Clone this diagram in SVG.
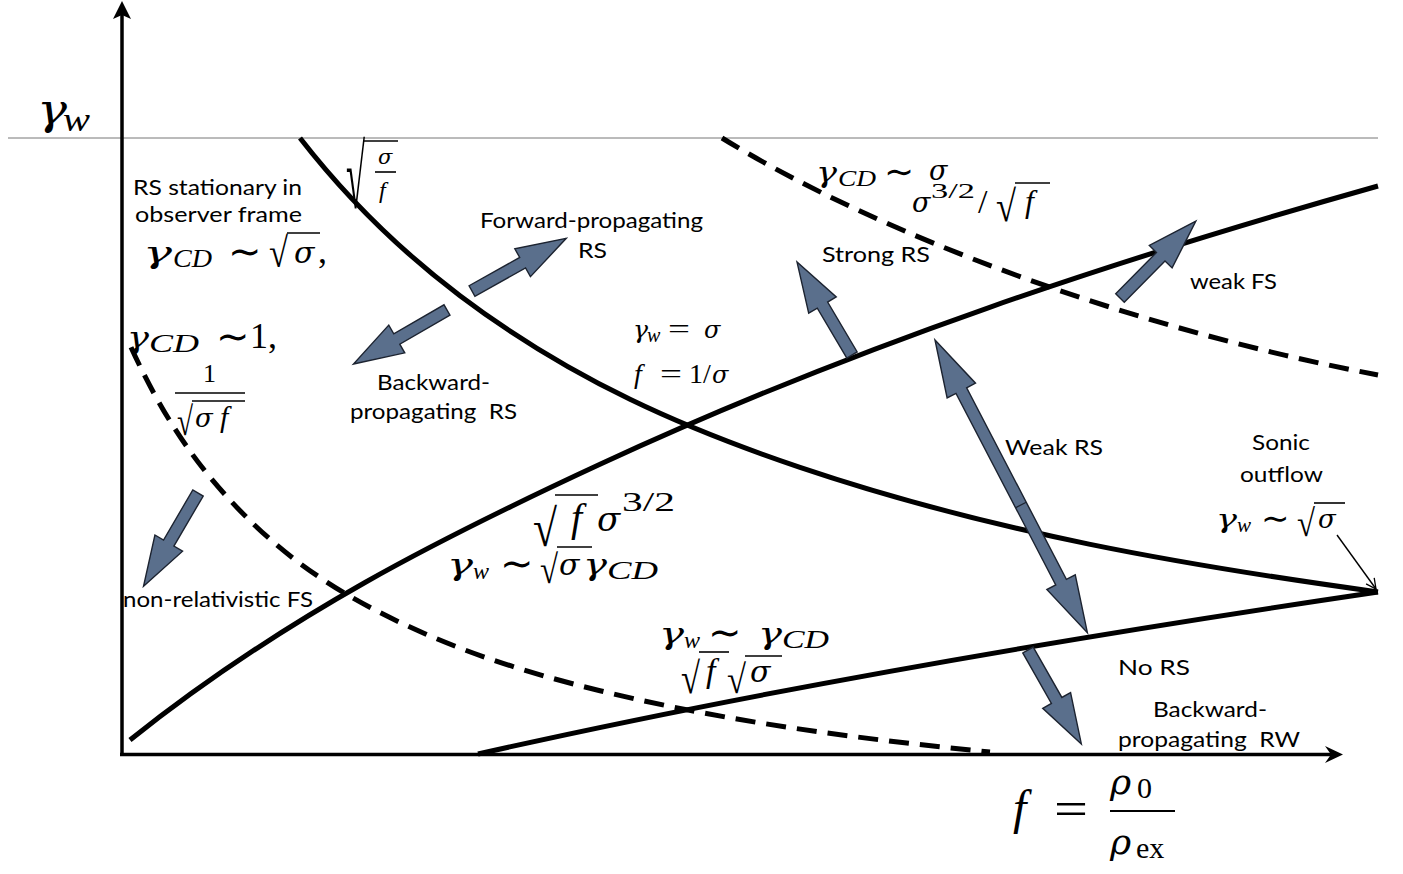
<svg xmlns="http://www.w3.org/2000/svg" width="1403" height="874" viewBox="0 0 1403 874">
<style>
.t{font-family:Lato,"Open Sans","Liberation Sans",sans-serif;font-size:22px;fill:#000;white-space:pre}
.mi{font-family:"Liberation Serif","DejaVu Serif",serif;font-style:italic;fill:#000}
.g{font-family:"DejaVu Serif","Liberation Serif",serif;font-style:italic;fill:#000}
.op{font-family:"DejaVu Sans","DejaVu Serif",sans-serif;fill:#000}
.mn{font-family:"Liberation Serif","DejaVu Serif",serif;fill:#000}
.bar{stroke:#000;stroke-width:1.6}
.cur{fill:none;stroke:#000;stroke-width:5;stroke-linejoin:round}
.dash{fill:none;stroke:#000;stroke-width:5;stroke-dasharray:20 11}
.blk{fill:#5a6f8c;stroke:#1c2330;stroke-width:1.4;stroke-linejoin:miter}
</style>
<defs>
<path id="blkArrow" class="blk" d="M0,-6 L58,-6 L58,-16 L108,0 L58,16 L58,6 L0,6 Z"/>
<marker id="thin" viewBox="0 0 12 12" refX="11" refY="6" markerWidth="12" markerHeight="12" markerUnits="userSpaceOnUse" orient="auto">
<path d="M1,1 L11,6 L1,11" fill="none" stroke="#000" stroke-width="1.3"/>
</marker>
</defs>
<rect width="1403" height="874" fill="#fff"/>
<g id="axes">
<line x1="8" y1="138" x2="1378" y2="138" stroke="#777" stroke-width="1"/>
<line x1="122" y1="756" x2="122" y2="12" stroke="#000" stroke-width="3.5"/>
<path d="M122,1 L131,19 L122,15 L113,19 Z" fill="#000"/>
<line x1="120" y1="754.5" x2="1334" y2="754.5" stroke="#000" stroke-width="3.5"/>
<path d="M1343,754.5 L1325,746 L1331,754.5 L1325,763 Z" fill="#000"/>
</g>
<g id="connectors">
<path id="curve-falling" class="cur" d="M300,138 C353.3,206.6 406.7,255.4 460,295.7 C573.3,381.3 686.7,429.2 800,467.4 C992.7,532.4 1185.3,565.4 1378,591.9"/>
<path id="curve-rising" class="cur" d="M130,740 C286.7,615 443.3,536.9 600,464.3 C859.3,344.2 1118.7,259.1 1378,186"/>
<path id="curve-lower" class="cur" d="M478,754 Q850,670 1378,592"/>
<path id="dash-top" class="dash" d="M722,138 C880,235 1130,328 1378,375"/>
<path id="dash-left" class="dash" d="M131,347.2 C164,419.7 197,464.3 230,500.1 C286.7,561.6 343.3,595.4 400,622.4 C466.7,654.2 533.3,674.4 600,690.7 C730,722.4 860,738.9 990,752"/>
<line id="sonic-pointer" x1="1337" y1="535" x2="1376" y2="589" stroke="#000" stroke-width="1.4" marker-end="url(#thin)"/>
</g>
<g id="arrows">
<use href="#blkArrow" transform="translate(472,291) rotate(-29.2)"/>
<use href="#blkArrow" transform="translate(447,310) rotate(150)"/>
<use href="#blkArrow" transform="translate(852,355) rotate(-120.6)"/>
<use href="#blkArrow" transform="translate(1120,298) rotate(-45.4)"/>
<use href="#blkArrow" transform="translate(1028,650) rotate(60.4)"/>
<use href="#blkArrow" transform="translate(198,493) rotate(120.3)"/>
<g id="weak-rs-arrow" transform="translate(935,340) rotate(62.5)">
<path class="blk" d="M0,0 L57,-16 L57,-6 L273,-6 L273,-16 L330,0 L273,16 L273,6 L57,6 L57,16 Z"/>
<line x1="186" y1="-6" x2="186" y2="6" stroke="#1c2330" stroke-width="1.2"/>
</g>
</g>
<g id="labels">
<text class="t" x="133" y="195" textLength="169" lengthAdjust="spacingAndGlyphs">RS stationary in</text>
<text class="t" x="135" y="222" textLength="167" lengthAdjust="spacingAndGlyphs">observer frame</text>
<text class="t" x="480" y="228" textLength="223" lengthAdjust="spacingAndGlyphs">Forward-propagating</text>
<text class="t" x="578" y="258" textLength="29" lengthAdjust="spacingAndGlyphs">RS</text>
<text class="t" x="377" y="390" textLength="113" lengthAdjust="spacingAndGlyphs">Backward-</text>
<text class="t" x="350" y="419" textLength="167" lengthAdjust="spacingAndGlyphs">propagating  RS</text>
<text class="t" x="822" y="262" textLength="108" lengthAdjust="spacingAndGlyphs">Strong RS</text>
<text class="t" x="1190" y="289" textLength="87" lengthAdjust="spacingAndGlyphs">weak FS</text>
<text class="t" x="1005" y="455" textLength="98" lengthAdjust="spacingAndGlyphs">Weak RS</text>
<text class="t" x="1252" y="450" textLength="58" lengthAdjust="spacingAndGlyphs">Sonic</text>
<text class="t" x="1240" y="482" textLength="83" lengthAdjust="spacingAndGlyphs">outflow</text>
<text class="t" x="123" y="607" textLength="190" lengthAdjust="spacingAndGlyphs">non-relativistic FS</text>
<text class="t" x="1118" y="675" textLength="72" lengthAdjust="spacingAndGlyphs">No RS</text>
<text class="t" x="1153" y="717" textLength="114" lengthAdjust="spacingAndGlyphs">Backward-</text>
<text class="t" x="1118" y="747" textLength="182" lengthAdjust="spacingAndGlyphs">propagating  RW</text>
</g>
<g id="math">
<text class="g" x="37" y="124" font-size="42" textLength="30" lengthAdjust="spacingAndGlyphs">γ</text>
<text class="mi" x="63" y="131" font-size="34" textLength="27" lengthAdjust="spacingAndGlyphs">w</text>

<text class="g" x="143" y="263" font-size="30" textLength="29" lengthAdjust="spacingAndGlyphs">γ</text>
<text class="mi" x="173" y="267" font-size="26" textLength="39" lengthAdjust="spacingAndGlyphs">CD</text>
<text class="op" x="228" y="265" font-size="40">∼</text>
<text class="mn" x="269" y="267" font-size="42" textLength="19" lengthAdjust="spacingAndGlyphs">√</text>
<line class="bar" x1="287" y1="233" x2="320" y2="233"/>
<text class="g" x="294" y="263" font-size="30">σ</text>
<text class="mn" x="318" y="263" font-size="36">,</text>

<text class="mn" x="346" y="208" font-size="90" textLength="19" lengthAdjust="spacingAndGlyphs">√</text>
<line class="bar" x1="364" y1="141" x2="398" y2="141"/>
<text class="g" x="378" y="164" font-size="21">σ</text>
<line class="bar" x1="375" y1="172" x2="396" y2="172"/>
<text class="mi" x="379" y="198" font-size="24">f</text>

<text class="g" x="127" y="348" font-size="30" textLength="22" lengthAdjust="spacingAndGlyphs">γ</text>
<text class="mi" x="149" y="352" font-size="26" textLength="50" lengthAdjust="spacingAndGlyphs">CD</text>
<text class="op" x="216" y="350" font-size="40">∼</text>
<text class="mn" x="250" y="348" font-size="36">1,</text>

<text class="mn" x="203" y="382" font-size="26">1</text>
<line class="bar" x1="175" y1="393" x2="245" y2="393"/>
<text class="mn" x="177" y="435" font-size="40" textLength="16" lengthAdjust="spacingAndGlyphs">√</text>
<line class="bar" x1="192" y1="401" x2="245" y2="401"/>
<text class="g" x="195" y="427" font-size="26">σ</text>
<text class="mi" x="220" y="427" font-size="30">f</text>

<text class="g" x="633" y="338" font-size="24" textLength="15" lengthAdjust="spacingAndGlyphs">γ</text>
<text class="mi" x="647" y="342" font-size="20">w</text>
<text class="mn" x="668" y="338" font-size="28" textLength="22" lengthAdjust="spacingAndGlyphs">=</text>
<text class="g" x="704" y="338" font-size="24">σ</text>
<text class="mi" x="634" y="383" font-size="28">f</text>
<text class="mn" x="660" y="383" font-size="28" textLength="22" lengthAdjust="spacingAndGlyphs">=</text>
<text class="mn" x="689" y="383" font-size="28">1/</text>
<text class="g" x="712" y="383" font-size="24">σ</text>

<text class="g" x="816" y="182" font-size="27" textLength="21" lengthAdjust="spacingAndGlyphs">γ</text>
<text class="mi" x="838" y="186" font-size="23" textLength="38" lengthAdjust="spacingAndGlyphs">CD</text>
<text class="op" x="884" y="184" font-size="36">∼</text>
<text class="g" x="929" y="180" font-size="27">σ</text>
<text class="g" x="912" y="212" font-size="27">σ</text>
<text class="mn" x="931" y="198" font-size="22" textLength="44" lengthAdjust="spacingAndGlyphs">3/2</text>
<text class="mn" x="978" y="213" font-size="34">/</text>
<text class="mn" x="996" y="221" font-size="44" textLength="20" lengthAdjust="spacingAndGlyphs">√</text>
<line class="bar" x1="1015" y1="183" x2="1050" y2="183"/>
<text class="mi" x="1025" y="212" font-size="32">f</text>

<text class="mn" x="533" y="546" font-size="52" textLength="24" lengthAdjust="spacingAndGlyphs">√</text>
<line class="bar" x1="555" y1="495" x2="598" y2="495"/>
<text class="mi" x="571" y="531" font-size="40">f</text>
<text class="g" x="597" y="531" font-size="34">σ</text>
<text class="mn" x="622" y="511" font-size="28" textLength="53" lengthAdjust="spacingAndGlyphs">3/2</text>

<text class="g" x="447" y="575" font-size="30" textLength="26" lengthAdjust="spacingAndGlyphs">γ</text>
<text class="mi" x="473" y="579" font-size="24">w</text>
<text class="op" x="500" y="577" font-size="40">∼</text>
<text class="mn" x="540" y="583" font-size="40" textLength="18" lengthAdjust="spacingAndGlyphs">√</text>
<line class="bar" x1="557" y1="547" x2="592" y2="547"/>
<text class="g" x="559" y="575" font-size="30">σ</text>
<text class="g" x="583" y="575" font-size="30" textLength="24" lengthAdjust="spacingAndGlyphs">γ</text>
<text class="mi" x="607" y="579" font-size="25" textLength="51" lengthAdjust="spacingAndGlyphs">CD</text>

<text class="g" x="659" y="644" font-size="30" textLength="25" lengthAdjust="spacingAndGlyphs">γ</text>
<text class="mi" x="684" y="648" font-size="24">w</text>
<text class="op" x="708" y="646" font-size="40">∼</text>
<text class="g" x="758" y="644" font-size="30" textLength="24" lengthAdjust="spacingAndGlyphs">γ</text>
<text class="mi" x="782" y="648" font-size="25" textLength="47" lengthAdjust="spacingAndGlyphs">CD</text>

<text class="mn" x="681" y="693" font-size="44" textLength="19" lengthAdjust="spacingAndGlyphs">√</text>
<line class="bar" x1="699" y1="652" x2="729" y2="652"/>
<text class="mi" x="706" y="682" font-size="34">f</text>
<text class="mn" x="727" y="693" font-size="40" textLength="19" lengthAdjust="spacingAndGlyphs">√</text>
<line class="bar" x1="745" y1="656" x2="782" y2="656"/>
<text class="g" x="750" y="682" font-size="30">σ</text>

<text class="g" x="1216" y="528" font-size="26" textLength="21" lengthAdjust="spacingAndGlyphs">γ</text>
<text class="mi" x="1237" y="532" font-size="21">w</text>
<text class="op" x="1261" y="530" font-size="34">∼</text>
<text class="mn" x="1297" y="536" font-size="38" textLength="18" lengthAdjust="spacingAndGlyphs">√</text>
<line class="bar" x1="1314" y1="503" x2="1345" y2="503"/>
<text class="g" x="1318" y="528" font-size="26">σ</text>

<text class="mi" x="1013" y="824" font-size="48">f</text>
<text class="mn" x="1054" y="825" font-size="48" textLength="34" lengthAdjust="spacingAndGlyphs">=</text>
<text class="g" x="1110" y="794" font-size="36">ρ</text>
<text class="mn" x="1137" y="798" font-size="30">0</text>
<line x1="1110" y1="811" x2="1175" y2="811" stroke="#000" stroke-width="2"/>
<text class="g" x="1110" y="854" font-size="36">ρ</text>
<text class="mn" x="1136" y="858" font-size="30">ex</text>
</g>
</svg>
